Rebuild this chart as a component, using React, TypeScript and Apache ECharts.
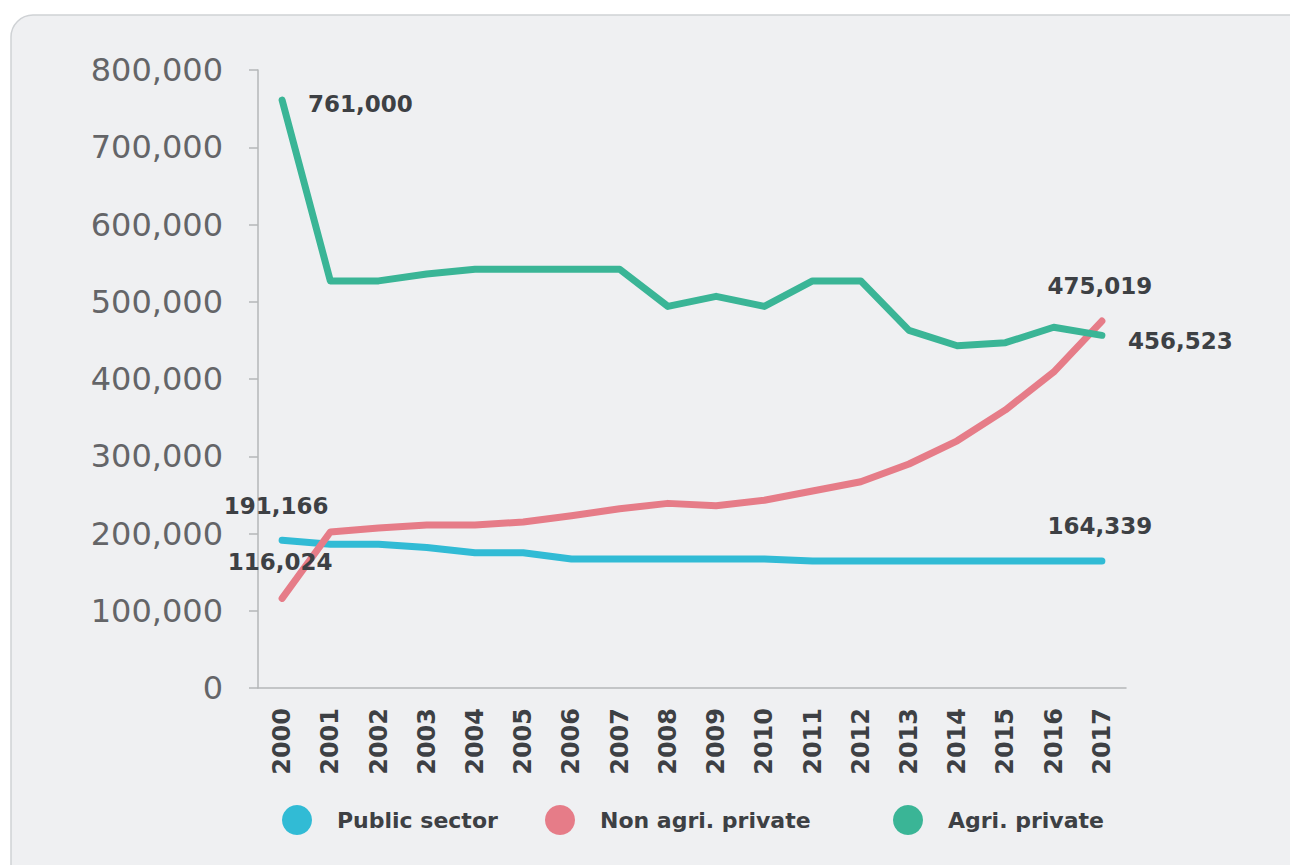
import React, { useEffect, useRef } from "react";
import * as echarts from "echarts";

const years = ["2000","2001","2002","2003","2004","2005","2006","2007","2008","2009","2010","2011","2012","2013","2014","2015","2016","2017"];
const publicSector = [191166,186000,186000,182000,175000,175000,167000,167000,167000,167000,167000,164339,164339,164339,164339,164339,164339,164339];
const nonAgriPrivate = [116024,202000,207000,211000,211000,215000,223000,232000,239000,236000,243000,255000,267000,290000,320000,360000,409000,475019];
const agriPrivate = [761000,527000,527000,536000,542000,542000,542000,542000,494000,507000,494000,527000,527000,463000,443000,447000,467000,456523];
const seriesNames = ["Public sector", "Non agri. private", "Agri. private"];
const colors = ["#31bbd5", "#e67c88", "#3ab596"];

const FONT = "DejaVu Sans";
const labelStyle = { color: "#3d4044", fontFamily: FONT, fontWeight: "bold" as const, fontSize: 23 };

type LabelSpec = { position: string; distance: number; offset: number[] };

function withLabels(values: number[], specs: Record<number, LabelSpec>) {
  return values.map((v, i) =>
    specs[i]
      ? { value: v, label: { show: true, ...labelStyle, ...specs[i], formatter: (p: any) => Number(p.value).toLocaleString("en-US") } }
      : v
  );
}

export default function App() {
  const ref = useRef<HTMLDivElement>(null);
  useEffect(() => {
    document.body.style.margin = "0";
    const chart = echarts.init(ref.current!, null, { renderer: "svg" });
    const last = years.length - 1;
    const mkSeries = (i: number, values: number[], specs: Record<number, LabelSpec>) => ({
      name: seriesNames[i],
      type: "line",
      data: withLabels(values, specs),
      color: colors[i],
      symbol: "circle",
      symbolSize: 0,
      showSymbol: true,
      lineStyle: { width: 7, color: colors[i], cap: "round", join: "round" },
      itemStyle: { color: colors[i] },
      label: { show: false },
      z: 3 + i,
    });
    const legendAt = (i: number, left: number) => ({
      data: [{ name: seriesNames[i], icon: "circle" }],
      left,
      top: 800,
      itemWidth: 30,
      itemHeight: 30,
      selectedMode: false,
      textStyle: { color: "#3d4044", fontFamily: FONT, fontWeight: "bold", fontSize: 22, padding: [0, 0, 0, 20] },
    });
    chart.setOption({
      animation: false,
      graphic: [
        {
          type: "rect",
          z: -10,
          silent: true,
          shape: { x: 11, y: 15, width: 1310, height: 900, r: 22 },
          style: { fill: "#eff0f2", stroke: "#cfd2d5", lineWidth: 1.5 },
        },
      ],
      grid: { left: 258, right: 164, top: 70, bottom: 177, containLabel: false },
      legend: [legendAt(0, 277), legendAt(1, 540), legendAt(2, 888)],
      xAxis: {
        type: "category",
        data: years,
        boundaryGap: true,
        axisLine: { lineStyle: { color: "#b5b7b9", width: 1.5 } },
        axisTick: { length: 12, lineStyle: { color: "#b5b7b9", width: 1.5 } },
        axisLabel: { rotate: 90, margin: 20, color: "#3d4044", fontFamily: FONT, fontWeight: "bold", fontSize: 24, interval: 0 },
      },
      yAxis: {
        type: "value",
        min: 0,
        max: 800000,
        interval: 100000,
        splitLine: { show: false },
        axisLine: { show: true, lineStyle: { color: "#b5b7b9", width: 1.5 } },
        axisTick: { show: true, length: 9, lineStyle: { color: "#b5b7b9", width: 1.5 } },
        axisLabel: {
          margin: 35,
          color: "#646568",
          fontFamily: FONT,
          fontSize: 32,
          formatter: (v: number) => v.toLocaleString("en-US"),
        },
      },
      series: [
        mkSeries(0, publicSector, {
          0: { position: "top", distance: 23, offset: [-6, 0] },
          [last]: { position: "top", distance: 24, offset: [-2, 0] },
        }),
        mkSeries(1, nonAgriPrivate, {
          0: { position: "top", distance: 25, offset: [-2, 0] },
          [last]: { position: "top", distance: 24, offset: [-2, 0] },
        }),
        mkSeries(2, agriPrivate, {
          0: { position: "right", distance: 26, offset: [0, 4] },
          [last]: { position: "right", distance: 26, offset: [0, 6] },
        }),
      ],
    });
    return () => chart.dispose();
  }, []);
  return <div ref={ref} style={{ width: 1290, height: 865 }} />;
}
